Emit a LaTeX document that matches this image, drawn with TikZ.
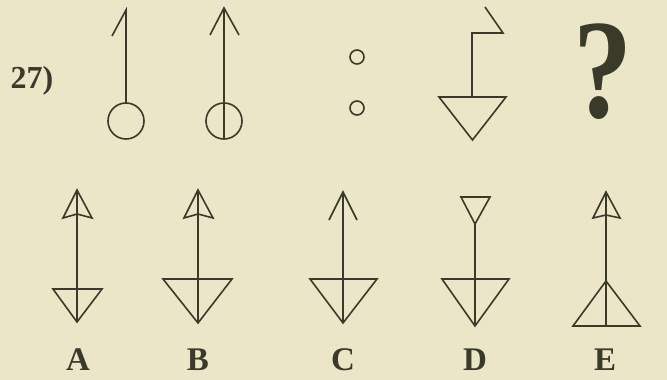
\documentclass[tikz,border=0pt]{standalone}
\usepackage{fontspec}
\setmainfont{Liberation Serif}
\usetikzlibrary{positioning}
\definecolor{paper}{RGB}{236,230,200}
\definecolor{ink}{RGB}{58,58,42}
\tikzset{
  fig/.style   = {draw=ink, line width=1.6pt, line join=miter},
  lab/.style   = {text=ink, font=\fontsize{33}{36}\selectfont\bfseries, inner sep=0pt},
  num/.style   = {text=ink, font=\fontsize{32}{34}\selectfont\bfseries, inner sep=0pt},
  qmark/.style = {text=ink, font=\fontsize{118}{120}\selectfont\bfseries, inner sep=0pt, yscale=1.2},
}
\begin{document}
\begin{tikzpicture}[x=1pt, y=-1pt]
  \fill[paper] (0,0) rectangle (667,380);
  \useasboundingbox (0,0) rectangle (667,380);
  % top row
  \node[num] (nr) at (32,81) {27)};
  \draw[fig] (112,36) -- (126,10) -- (126,103);
  \draw[fig] (126,121) circle[radius=18];
  \draw[fig] (210,35) -- (224,8) -- (239,35);
  \draw[fig] (224,8) -- (224,139);
  \draw[fig] (224,121) circle[radius=18];
  \draw[fig] (357,57) circle[radius=7];
  \draw[fig] (357,108) circle[radius=7];
  \draw[fig] (485,7) -- (503,33) -- (472,33) -- (472,97);
  \draw[fig] (439,97) -- (506,97) -- (472.5,140) -- cycle;
  \node[qmark] (q) at (603,72) {?};
  % answers
  \draw[fig] (77,190) -- (63,218) -- (77,214) -- (92,218) -- cycle;
  \draw[fig] (77,190) -- (77,322);
  \draw[fig] (53,289) -- (102,289) -- (77,322) -- cycle;
  \draw[fig] (198,190) -- (184,218) -- (198,214) -- (213,218) -- cycle;
  \draw[fig] (198,190) -- (198,323);
  \draw[fig] (163,279) -- (232,279) -- (198,323) -- cycle;
  \draw[fig] (329,220) -- (343,192) -- (357,220);
  \draw[fig] (343,192) -- (343,323);
  \draw[fig] (310,279) -- (377,279) -- (343,323) -- cycle;
  \draw[fig] (461,197) -- (490,197) -- (475,224) -- cycle;
  \draw[fig] (475,224) -- (475,326);
  \draw[fig] (442,279) -- (509,279) -- (475,326) -- cycle;
  \draw[fig] (606,192) -- (593,218) -- (606,215) -- (620,218) -- cycle;
  \draw[fig] (606,192) -- (606,326);
  \draw[fig] (573,326) -- (640,326) -- (606,281) -- cycle;
  \node[lab] (la) at (78,360) {A};
  \node[lab] (lb) at (198,360) {B};
  \node[lab] (lc) at (343,360) {C};
  \node[lab] (ld) at (475,360) {D};
  \node[lab] (le) at (605,360) {E};
\end{tikzpicture}
\end{document}
